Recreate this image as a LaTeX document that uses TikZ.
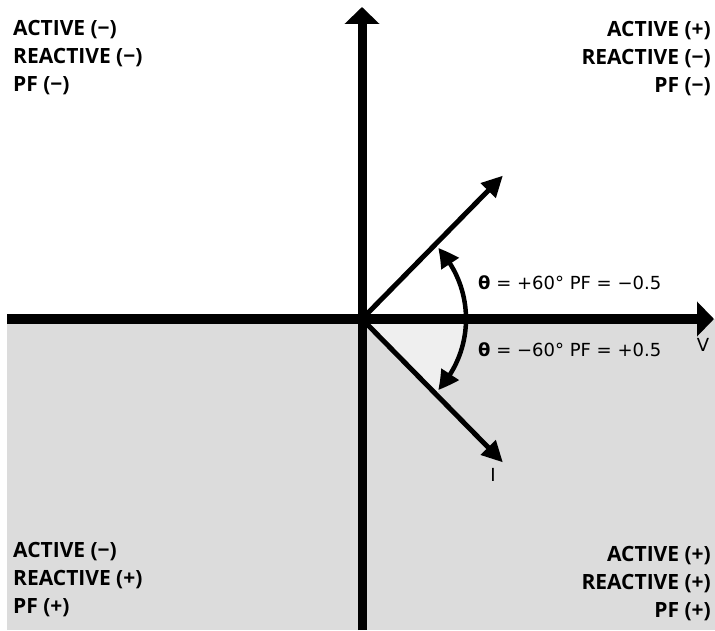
\documentclass[tikz,border=0pt]{standalone}
\usepackage{fontspec}
\setmainfont{Open Sans}
\newfontfamily\anglefont{DejaVu Sans}
\usetikzlibrary{arrows.meta,bending}
\definecolor{quadgray}{HTML}{DCDCDC}
\definecolor{sectorgray}{HTML}{EFEFEF}
\tikzset{
  axisline/.style={line width=#1,-{Triangle[length=17pt,width=34pt]}},
  phasor/.style={line width=5pt,-{Triangle[length=21pt,width=20pt]}},
  anglearc/.style={line width=4.5pt,{Triangle[length=20pt,width=20pt,bend]}-{Triangle[length=20pt,width=20pt,bend]}},
  quadtext/.style={font=\bfseries\fontsize{21}{28}\selectfont,inner sep=0pt},
  angtext/.style={font=\anglefont\fontsize{18}{20}\selectfont,inner sep=0pt,anchor=west}
}
\begin{document}
\begin{tikzpicture}[x=1pt,y=1pt]
\useasboundingbox(0,0)rectangle(715,630);
\fill[quadgray](7,0)rectangle(715,311);
% origin and axis ends
\coordinate(O)at(362,311);\coordinate(Vstart)at(7,311);\coordinate(Vtip)at(714,311);
\coordinate(Ybot)at(362,0);\coordinate(Ytop)at(362,623);
\path(O)++(45.5:201)coordinate(Utip);\path(O)++(-45.5:201)coordinate(Itip);
\fill[sectorgray](O)--++(0:105)arc[start angle=0,end angle=-45.5,radius=105]--cycle;
\draw[axisline=10pt](Vstart)--(Vtip);\draw[axisline=9pt](Ybot)--(Ytop);
\draw[phasor](O)--(Utip);\draw[phasor](O)--(Itip);
\draw[anglearc](O)++(-43:104)arc[start angle=-43,end angle=43,radius=104];
\node[angtext](thplus)at(478,347){\textbf{θ} = +60° PF = −0.5};
\node[angtext](thminus)at(478,280){\textbf{θ} = −60° PF = +0.5};
\node[font=\anglefont\fontsize{18}{20}\selectfont](vlab)at(703,285){V};
\node[font=\anglefont\fontsize{18}{20}\selectfont](ilab)at(493,155){I};
% quadrant signs (base = last line)
\node[quadtext,align=left,anchor=base west](qtl)at(13,538){ACTIVE (−)\\REACTIVE (−)\\PF (−)};
\node[quadtext,align=right,anchor=base east](qtr)at(711,537){ACTIVE (+)\\REACTIVE (−)\\PF (−)};
\node[quadtext,align=left,anchor=base west](qbl)at(13,17){ACTIVE (−)\\REACTIVE (+)\\PF (+)};
\node[quadtext,align=right,anchor=base east](qbr)at(711,13){ACTIVE (+)\\REACTIVE (+)\\PF (+)};
\end{tikzpicture}
\end{document}
